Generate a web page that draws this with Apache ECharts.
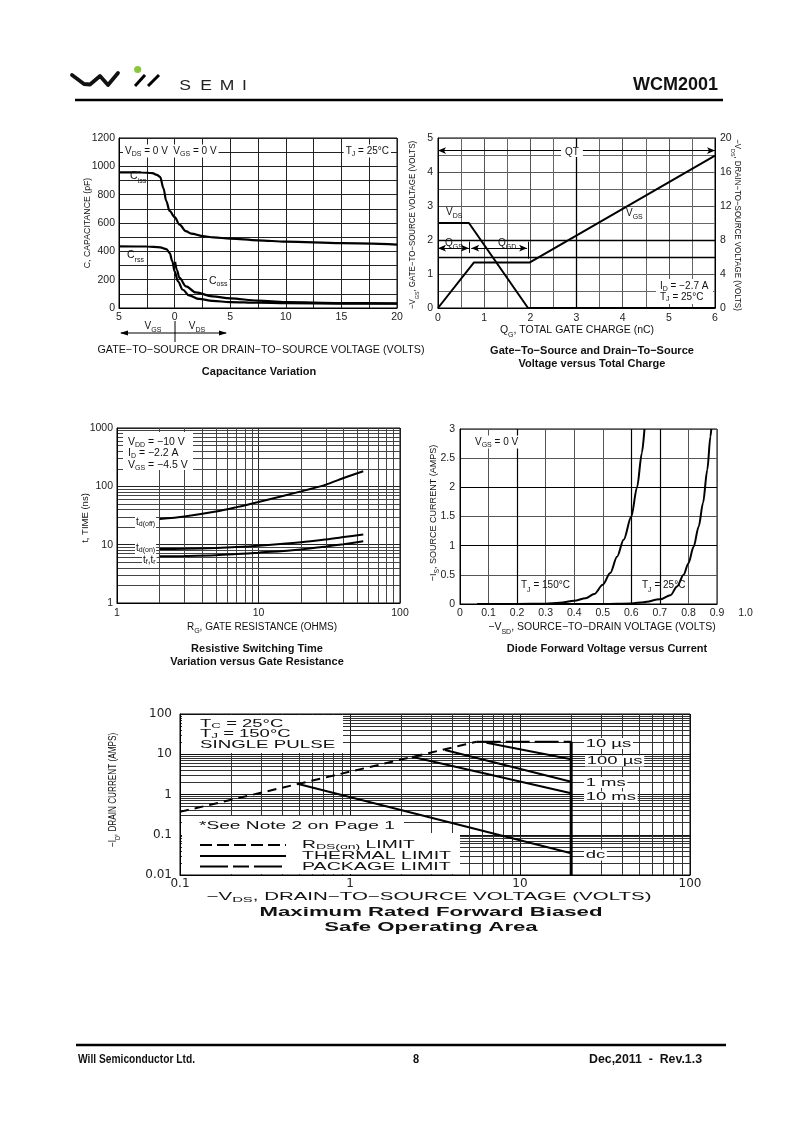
<!DOCTYPE html>
<html><head><meta charset="utf-8">
<script src="https://cdn.jsdelivr.net/npm/echarts@6/dist/echarts.min.js"></script>
<style>html,body{margin:0;padding:0;background:#fff}#c{width:800px;height:1132px}</style>
</head><body><div id="c"></div>
<script>
// ================= DATA =================
// Capacitance Variation (negative x = V_GS side, positive x = V_DS side)
const cissV = [-5, -3, -2, -1.6, -1.3, -1.0, -0.75, -0.45, 0, 0.45, 1, 1.5, 2.5, 3.5, 5, 7.5, 10, 15, 20];
const cissC = [958, 957, 952, 940, 925, 845, 755, 685, 642, 588, 543, 525, 508, 498, 490, 478, 468, 458, 448];
const crssV = [-5, -2.5, -1.3, -0.74, -0.44, -0.2, 0, 0.3, 0.74, 1.3, 2.2, 3.4, 5, 7.5, 10, 15, 20];
const crssC = [435, 434, 428, 416, 388, 329, 259, 188, 129, 89, 64, 50, 42, 37, 34, 31, 30];
const cossV = [0.05, 0.2, 0.44, 1.03, 1.9, 3.4, 5, 7.5, 10, 15, 20];
const cossC = [325, 270, 212, 153, 110, 82, 68, 52, 42, 35, 33];

// Gate charge
const qgVgsQ = [0, 0.78, 1.99, 6];
const qgVgsV = [0, 1.34, 1.34, 4.48];
const qgVdsQ = [0, 0.67, 1.95, 6];
const qgVdsV = [10, 10, 0, 0];

// Resistive switching time
const rgOhms = [2, 3, 5, 7, 10, 20, 30, 40, 55];
const tdOff = [27.5, 30.5, 37, 44, 54, 82, 107, 139, 181];
const tdOn  = [8.4, 8.5, 8.8, 9.1, 9.6, 11, 12.3, 13.5, 15];
const tfTr  = [6.3, 6.4, 6.6, 6.9, 7.3, 8.3, 9.3, 10.2, 11.4];

// Diode forward voltage
const vsd150 = [0.06, 0.2, 0.3, 0.35, 0.4, 0.44, 0.47, 0.5, 0.526, 0.55, 0.573, 0.6, 0.62, 0.637, 0.646];
const is150  = [0, 0.001, 0.006, 0.02, 0.055, 0.1, 0.17, 0.33, 0.53, 0.81, 1.1, 1.5, 2.0, 2.59, 3.0];
const vsd25  = [0.3, 0.5, 0.6, 0.643, 0.7, 0.737, 0.76, 0.783, 0.8, 0.818, 0.836, 0.851, 0.866, 0.877, 0.88];
const is25   = [0, 0.001, 0.01, 0.03, 0.08, 0.15, 0.3, 0.5, 0.7, 0.98, 1.33, 1.73, 2.3, 2.87, 3.0];

// Safe operating area
const soaRdsV = [0.1, 5.56],  soaRdsI = [0.37, 20.5];
const soaPkgV = [5.56, 20],   soaPkgI = [20.5, 20.5];
const soaMaxV = [20, 20],     soaMaxI = [20.5, 0.01];
const soa100usV = [6.35, 20], soa100usI = [19.4, 7.48];
const soa1msV = [3.62, 20],   soa1msI = [12.7, 2.08];
const soa10msV = [2.31, 20],  soa10msI = [8.7, 1.07];
const soaDcV = [0.497, 20],   soaDcI = [1.82, 0.0346];

// Tick label sets
const capXTicks = [-5, 0, 5, 10, 15, 20];
const diodeXLabels = ['0','0.1','0.2','0.3','0.4','0.5','0.6','0.7','0.8','0.9','1.0'];

// ================= HELPERS =================
const FONT = '"Liberation Sans", Arial, Helvetica, sans-serif';
const zip = (xs, ys) => xs.map((x, i) => [x, ys[i]]);
const R = (...parts) => parts.map((p, i) => p === '' ? '' : '{' + (i % 2 ? 's' : 'n') + '|' + p + '}').join('');
const mctx = document.createElement('canvas').getContext('2d');
function tw(text, fs, fw, ff) { mctx.font = (fw || 'normal') + ' ' + fs + 'px ' + (ff || FONT); return mctx.measureText(text).width; }

function T(x, y, text, o) {
  o = o || {};
  const fs = o.fs || 10, fw = o.fw || 'normal', ff = o.ff || FONT;
  const sub = o.sub || Math.round(fs * 0.7);
  const col = o.color || '#111';
  const lh = o.lh || (fs + 6);
  return {
    type: 'text', x: x, y: y, rotation: o.rot || 0, scaleX: o.sx || 1, z: o.z || 20, silent: true,
    style: {
      text: text, fill: col, fontSize: fs, fontWeight: fw, fontFamily: ff,
      align: o.align || 'left', verticalAlign: 'middle',
      backgroundColor: o.bg, padding: o.pad,
      rich: {
        n: { fontSize: fs, fontWeight: fw, fontFamily: ff, fill: col, color: col, lineHeight: lh },
        s: { fontSize: sub, fontWeight: fw, fontFamily: ff, fill: col, color: col, lineHeight: sub + 1, verticalAlign: 'bottom' }
      }
    }
  };
}
function fitT(x, y, text, width, o) {
  o = o || {};
  const w = tw(text, o.fs || 10, o.fw, o.ff);
  o.sx = width / w;
  return T(x, y, text, o);
}
function rect(x, y, w, h) { return { type: 'rect', z: 15, silent: true, shape: { x, y, width: w, height: h }, style: { fill: '#fff' } }; }
function ln(x1, y1, x2, y2, w, dash) { return { type: 'line', z: 20, silent: true, shape: { x1, y1, x2, y2 }, style: { stroke: '#000', lineWidth: w || 1, lineDash: dash || null } }; }
function tri(points) { return { type: 'polygon', z: 20, silent: true, shape: { points }, style: { fill: '#000' } }; }

const LBL = { color: '#222', fontSize: 10.5, fontFamily: FONT };
const AL = { show: true, onZero: false, lineStyle: { color: '#000', width: 1 } };
const NT = { show: false };
const numFmt = v => String(+(+v).toPrecision(6));

function curve(xi, yi, xs, ys, o) {
  o = o || {};
  return {
    type: 'line', xAxisIndex: xi, yAxisIndex: yi, data: zip(xs, ys), symbol: 'none', showSymbol: false,
    silent: true, animation: false, smooth: o.smooth || false, smoothMonotone: o.mono,
    lineStyle: { color: '#000', width: o.w || 2, type: o.dash || 'solid' }, z: 3
  };
}
function gridLines(xi, yi, xs, ys, color, width) {
  return {
    type: 'line', xAxisIndex: xi, yAxisIndex: yi, data: [], silent: true, animation: false, z: 0,
    markLine: {
      silent: true, symbol: ['none', 'none'], z: 0, animation: false, label: { show: false },
      emphasis: { disabled: true },
      lineStyle: { color: color, width: width || 1, type: 'solid' },
      data: xs.map(v => ({ xAxis: v })).concat(ys.map(v => ({ yAxis: v })))
    }
  };
}
function minors(fromExp, toExp) {
  const out = [];
  for (let e = fromExp; e < toExp; e++) for (let k = 2; k <= 9; k++) out.push(+(k * Math.pow(10, e)).toPrecision(6));
  return out;
}

// ================= LAYOUT =================
const grids = [
  { left: 119, top: 138, width: 278, height: 170 },   // 0 capacitance
  { left: 438, top: 138, width: 277, height: 170 },   // 1 gate charge
  { left: 117, top: 428, width: 283, height: 175 },   // 2 switching
  { left: 460, top: 429, width: 257, height: 175 },   // 3 diode
  { left: 460, top: 429, width: 257 * 10 / 9, height: 175 }, // 4 diode label scale
  { left: 180, top: 714, width: 510, height: 161 }    // 5 SOA
].map(g => Object.assign({ show: true, borderColor: '#000', borderWidth: 1, containLabel: false, outerBoundsMode: 'none' }, g));
grids[4].show = false;

const xAxis = [
  { gridIndex: 0, type: 'value', min: -5, max: 20, interval: 5, axisLine: AL, axisTick: NT,
    axisLabel: Object.assign({}, LBL, { margin: 4, formatter: v => capXTicks.indexOf(v) >= 0 ? String(Math.abs(v)) : '' }),
    splitLine: { show: true, lineStyle: { color: '#222' } },
    minorTick: { show: false, splitNumber: 2 }, minorSplitLine: { show: true, lineStyle: { color: '#222' } } },
  { gridIndex: 1, type: 'value', min: 0, max: 6, interval: 1, axisLine: AL, axisTick: NT,
    axisLabel: Object.assign({}, LBL, { margin: 5, formatter: numFmt }),
    splitLine: { show: true, lineStyle: { color: '#555' } },
    minorTick: { show: false, splitNumber: 2 }, minorSplitLine: { show: true, lineStyle: { color: '#666' } } },
  { gridIndex: 2, type: 'log', logBase: 10, min: 1, max: 100, axisLine: AL, axisTick: NT,
    axisLabel: Object.assign({}, LBL, { margin: 5, formatter: numFmt }),
    splitLine: { show: true, lineStyle: { color: '#222' } } },
  { gridIndex: 3, type: 'value', min: 0, max: 0.9, interval: 0.1, axisLine: AL, axisTick: NT,
    axisLabel: { show: false }, splitLine: { show: true, lineStyle: { color: '#555' } } },
  { gridIndex: 4, type: 'value', min: 0, max: 1, interval: 0.1, axisLine: { show: false }, axisTick: NT,
    axisLabel: Object.assign({}, LBL, { margin: 4, formatter: (v, i) => diodeXLabels[i] }),
    splitLine: { show: false } },
  { gridIndex: 5, type: 'log', logBase: 10, min: 0.1, max: 100, axisLine: AL, axisTick: NT,
    axisLabel: { color: '#222', fontSize: 12, fontFamily: '"DejaVu Sans", sans-serif', margin: 3, formatter: numFmt },
    splitLine: { show: true, lineStyle: { color: '#111' } } }
];
const yAxis = [
  { gridIndex: 0, type: 'value', min: 0, max: 1200, interval: 200, axisLine: AL, axisTick: NT,
    axisLabel: Object.assign({}, LBL, { margin: 4, formatter: numFmt }),
    splitLine: { show: true, lineStyle: { color: '#222' } },
    minorTick: { show: false, splitNumber: 2 }, minorSplitLine: { show: true, lineStyle: { color: '#222' } } },
  { gridIndex: 1, type: 'value', min: 0, max: 5, interval: 1, axisLine: AL, axisTick: NT,
    axisLabel: Object.assign({}, LBL, { margin: 5, formatter: numFmt }),
    splitLine: { show: true, lineStyle: { color: '#555' } },
    minorTick: { show: false, splitNumber: 2 }, minorSplitLine: { show: true, lineStyle: { color: '#666' } } },
  { gridIndex: 1, type: 'value', position: 'right', min: 0, max: 20, interval: 4, axisLine: AL, axisTick: NT,
    axisLabel: Object.assign({}, LBL, { margin: 5, formatter: numFmt }), splitLine: { show: false } },
  { gridIndex: 2, type: 'log', logBase: 10, min: 1, max: 1000, axisLine: AL, axisTick: NT,
    axisLabel: Object.assign({}, LBL, { margin: 4, formatter: numFmt }),
    splitLine: { show: true, lineStyle: { color: '#222' } } },
  { gridIndex: 3, type: 'value', min: 0, max: 3, interval: 0.5, axisLine: AL, axisTick: NT,
    axisLabel: Object.assign({}, LBL, { margin: 5, formatter: numFmt }),
    splitLine: { show: true, lineStyle: { color: '#555' } } },
  { gridIndex: 4, type: 'value', show: false, min: 0, max: 1 },
  { gridIndex: 5, type: 'log', logBase: 10, min: 0.01, max: 100, axisLine: AL, axisTick: NT,
    axisLabel: { color: '#222', fontSize: 12, fontFamily: '"DejaVu Sans", sans-serif', margin: 8, formatter: numFmt },
    splitLine: { show: true, lineStyle: { color: '#111' } } }
];

const series = [
  // capacitance
  curve(0, 0, cissV, cissC, { smooth: 0.35, mono: 'x', w: 2.2 }),
  curve(0, 0, crssV, crssC, { smooth: 0.35, mono: 'x', w: 2.2 }),
  curve(0, 0, cossV, cossC, { smooth: 0.35, mono: 'x', w: 2.2 }),
  // gate charge
  gridLines(1, 1, [3], [1.5, 2], '#000', 1.3),
  curve(1, 1, qgVgsQ, qgVgsV, { w: 2 }),
  curve(1, 2, qgVdsQ, qgVdsV, { w: 2 }),
  { type: 'line', xAxisIndex: 1, yAxisIndex: 1, data: [], silent: true, animation: false,
    markLine: { silent: true, animation: false, symbol: ['arrow', 'arrow'], symbolSize: [5, 8], label: { show: false },
      lineStyle: { color: '#000', width: 1, type: 'solid' }, emphasis: { disabled: true },
      data: [
        [{ coord: [0, 4.63] }, { coord: [6, 4.63] }],
        [{ coord: [0, 1.76] }, { coord: [0.67, 1.76] }],
        [{ coord: [0.72, 1.76] }, { coord: [1.93, 1.76] }],
        [{ coord: [0.67, 1.62], symbol: 'none' }, { coord: [0.67, 1.95], symbol: 'none' }],
        [{ coord: [1.95, 1.45], symbol: 'none' }, { coord: [1.95, 1.95], symbol: 'none' }]
      ] } },
  // switching
  gridLines(2, 3, minors(0, 2), minors(0, 3), '#444'),
  curve(2, 3, rgOhms, tdOff, { smooth: 0.3, w: 2 }),
  curve(2, 3, rgOhms, tdOn, { smooth: 0.3, w: 2 }),
  curve(2, 3, rgOhms, tfTr, { smooth: 0.3, w: 2 }),
  // diode
  gridLines(3, 4, [0.2, 0.6, 0.7], [1, 2], '#000', 1.2),
  curve(3, 4, vsd150, is150, { smooth: 0.3, mono: 'x', w: 2 }),
  curve(3, 4, vsd25, is25, { smooth: 0.3, mono: 'x', w: 2 }),
  // SOA
  gridLines(5, 6, minors(-1, 2), minors(-2, 2), '#333'),
  curve(5, 6, soaRdsV, soaRdsI, { w: 2, dash: [9, 6] }),
  curve(5, 6, soaPkgV, soaPkgI, { w: 2, dash: [24, 5] }),
  curve(5, 6, soaMaxV, soaMaxI, { w: 3 }),
  curve(5, 6, soa100usV, soa100usI, { w: 2 }),
  curve(5, 6, soa1msV, soa1msI, { w: 2 }),
  curve(5, 6, soa10msV, soa10msI, { w: 2 }),
  curve(5, 6, soaDcV, soaDcI, { w: 2 })
];

const SX = 1.68;
const SO = (extra) => Object.assign({ fs: 11, sx: SX, lh: 12, sub: 8 }, extra || {});
const g = [];
// ---- header ----
g.push({ type: 'polyline', z: 20, silent: true, shape: { points: [[72, 75], [84, 84], [90, 84.5], [100, 76], [108, 85], [118, 73]] },
  style: { stroke: '#111', lineWidth: 3.8, fill: null, lineJoin: 'round', lineCap: 'round' } });
g.push(ln(135, 86, 145, 75, 3), ln(148, 86, 159, 75, 3));
g.push({ type: 'circle', z: 21, silent: true, shape: { cx: 137.7, cy: 69.5, r: 3.6 }, style: { fill: '#8cc63f' } });
[['S', 185], ['E', 206], ['M', 227], ['I', 244.5]].forEach(a => g.push(T(a[1], 86, a[0], { fs: 14, align: 'center', sx: 1.25, color: '#222' })));
g.push(fitT(718, 85, 'WCM2001', 85, { fs: 18, fw: 'bold', align: 'right' }));
g.push(ln(75, 100, 723, 100, 2.5));
// ---- footer ----
g.push(ln(76, 1045, 726, 1045, 2.5));
g.push(fitT(78, 1059, 'Will Semiconductor Ltd.', 117, { fs: 13, fw: 'bold' }));
g.push(T(416, 1059, '8', { fs: 13, fw: 'bold', align: 'center', sx: 0.85 }));
g.push(fitT(589, 1059, 'Dec,2011  -  Rev.1.3', 113, { fs: 13, fw: 'bold' }));

// ---- capacitance ----
g.push(T(123, 151, R('V', 'DS', ' = 0 V  V', 'GS', ' = 0 V'), { fs: 10, bg: '#fff', pad: [0, 2], lh: 13 }));
g.push(T(391, 151, R('T', 'J', ' = 25°C'), { fs: 10, bg: '#fff', pad: [0, 2], align: 'right', lh: 13 }));
g.push(T(130, 176, R('C', 'iss'), { fs: 10.5 }));
g.push(T(127, 255, R('C', 'rss'), { fs: 10.5 }));
g.push(T(207, 281, R('C', 'oss'), { fs: 10.5, bg: '#fff', pad: [0, 2], lh: 13 }));
g.push(ln(121, 333, 226, 333, 1), ln(175, 321, 175, 342, 1));
g.push(tri([[120, 333], [128, 330.5], [128, 335.5]]), tri([[227, 333], [219, 330.5], [219, 335.5]]));
g.push(T(153, 326, R('V', 'GS'), { fs: 10, align: 'center' }));
g.push(T(197, 326, R('V', 'DS'), { fs: 10, align: 'center' }));
g.push(fitT(261, 350, 'GATE−TO−SOURCE OR DRAIN−TO−SOURCE VOLTAGE (VOLTS)', 327, { fs: 10, align: 'center' }));
g.push(T(259, 372, 'Capacitance Variation', { fs: 11, fw: 'bold', align: 'center' }));
g.push(T(87, 223, 'C, CAPACITANCE (pF)', { fs: 9.5, align: 'center', rot: Math.PI / 2, sx: 0.92 }));

// ---- gate charge ----
g.push(T(413, 225, R('−V', 'GS', ', GATE−TO−SOURCE VOLTAGE (VOLTS)'), { fs: 9, align: 'center', rot: Math.PI / 2, sx: 0.88 }));
g.push(T(737, 225, R('−V', 'DS', ', DRAIN−TO−SOURCE VOLTAGE (VOLTS)'), { fs: 9, align: 'center', rot: -Math.PI / 2, sx: 0.88 }));
g.push(T(446, 212, R('V', 'DS'), { fs: 10 }));
g.push(T(626, 213, R('V', 'GS'), { fs: 10 }));
g.push(T(572, 152, 'QT', { fs: 10, align: 'center', bg: '#fff', pad: [0, 4] }));
g.push(T(445, 243, R('Q', 'GS'), { fs: 10 }));
g.push(T(498, 243, R('Q', 'GD'), { fs: 10 }));
g.push(rect(656, 279, 57, 25));
g.push(T(660, 286.5, R('I', 'D', ' = −2.7 A'), { fs: 10, lh: 12 }));
g.push(T(660, 297, R('T', 'J', ' = 25°C'), { fs: 10, lh: 12 }));
g.push(T(577, 330, R('Q', 'G', ', TOTAL GATE CHARGE (nC)'), { fs: 10.5, align: 'center' }));
g.push(T(592, 351, 'Gate−To−Source and Drain−To−Source', { fs: 11, fw: 'bold', align: 'center' }));
g.push(T(592, 364, 'Voltage versus Total Charge', { fs: 11, fw: 'bold', align: 'center' }));

// ---- switching ----
g.push(rect(123, 432, 70, 38));
g.push(T(128, 442, R('V', 'DD', ' = −10 V'), { fs: 10.5, lh: 13 }));
g.push(T(128, 453.5, R('I', 'D', ' = −2.2 A'), { fs: 10.5, lh: 13 }));
g.push(T(128, 465, R('V', 'GS', ' = −4.5 V'), { fs: 10.5, lh: 13 }));
g.push(T(135, 522, R('t', 'd(off)'), { fs: 10, bg: '#fff', pad: [0, 1], lh: 12 }));
g.push(T(135, 548, R('t', 'd(on)'), { fs: 10, bg: '#fff', pad: [0, 1], lh: 12 }));
g.push(T(142, 560, R('t', 'f', ',t', 'r'), { fs: 10, bg: '#fff', pad: [0, 1], lh: 11 }));
g.push(T(85, 518, 't, TIME (ns)', { fs: 9.5, align: 'center', rot: Math.PI / 2 }));
g.push(T(262, 627, R('R', 'G', ', GATE RESISTANCE (OHMS)'), { fs: 10, align: 'center' }));
g.push(T(257, 649, 'Resistive Switching Time', { fs: 11, fw: 'bold', align: 'center' }));
g.push(T(257, 662, 'Variation versus Gate Resistance', { fs: 11, fw: 'bold', align: 'center' }));

// ---- diode ----
g.push(T(473, 442, R('V', 'GS', ' = 0 V'), { fs: 10, bg: '#fff', pad: [0, 2], lh: 13 }));
g.push(T(521, 585.5, R('T', 'J', ' = 150°C'), { fs: 10 }));
g.push(T(642, 585.5, R('T', 'J', ' = 25°C'), { fs: 10 }));
g.push(T(433, 513, R('−I', 'S', ', SOURCE CURRENT (AMPS)'), { fs: 9.5, align: 'center', rot: Math.PI / 2, sx: 0.95 }));
g.push(T(602, 627, R('−V', 'SD', ', SOURCE−TO−DRAIN VOLTAGE (VOLTS)'), { fs: 10.5, align: 'center' }));
g.push(T(607, 649, 'Diode Forward Voltage versus Current', { fs: 11, fw: 'bold', align: 'center' }));

// ---- SOA ----
g.push(rect(182, 715, 161, 38));
g.push(T(200, 723.5, R('T', 'C', ' = 25°C'), SO()));
g.push(T(200, 734, R('T', 'J', ' = 150°C'), SO()));
g.push(T(200, 745, 'SINGLE PULSE', SO({ sx: 1.7 })));
g.push(rect(182, 816, 222, 18), rect(182, 833, 278, 41));
g.push(T(199, 826, '*See Note 2 on Page 1', SO({ sx: 1.74 })));
g.push(ln(200, 845, 286, 845, 2, [12, 5]), ln(200, 856, 286, 856, 2), ln(200, 866.5, 286, 866.5, 2, [28, 5, 16, 5]));
g.push(T(302, 845, R('R', 'DS(on)', ' LIMIT'), SO({ sx: 1.75 })));
g.push(T(302, 856, 'THERMAL LIMIT', SO({ sx: 1.78 })));
g.push(T(302, 866.5, 'PACKAGE LIMIT', SO({ sx: 1.78 })));
g.push(T(584, 743.5, '10 µs', SO({ bg: '#fff', pad: [0, 1] })));
g.push(T(585, 761, '100 µs', SO({ bg: '#fff', pad: [0, 1] })));
g.push(T(584, 782.5, '1 ms', SO({ bg: '#fff', pad: [0, 1] })));
g.push(T(584, 797, '10 ms', SO({ bg: '#fff', pad: [0, 1] })));
g.push(T(584, 855, 'dc', SO({ bg: '#fff', pad: [0, 1] })));
g.push(T(113, 790, R('−I', 'D', ', DRAIN CURRENT (AMPS)'), { fs: 10.5, align: 'center', rot: Math.PI / 2, sx: 0.78 }));
g.push(T(429, 896.5, R('−V', 'DS', ', DRAIN−TO−SOURCE VOLTAGE (VOLTS)'), SO({ align: 'center', sx: 1.86, lh: 14 })));
g.push(T(431, 913, 'Maximum Rated Forward Biased', { fs: 12, fw: 'bold', align: 'center', sx: 1.85 }));
g.push(T(431, 928, 'Safe Operating Area', { fs: 12, fw: 'bold', align: 'center', sx: 1.85 }));

const chart = echarts.init(document.getElementById('c'), null, { renderer: 'canvas' });
chart.setOption({
  animation: false,
  backgroundColor: '#fff',
  textStyle: { fontFamily: FONT },
  grid: grids,
  xAxis: xAxis,
  yAxis: yAxis,
  series: series,
  graphic: g
});
</script>
</body></html>
